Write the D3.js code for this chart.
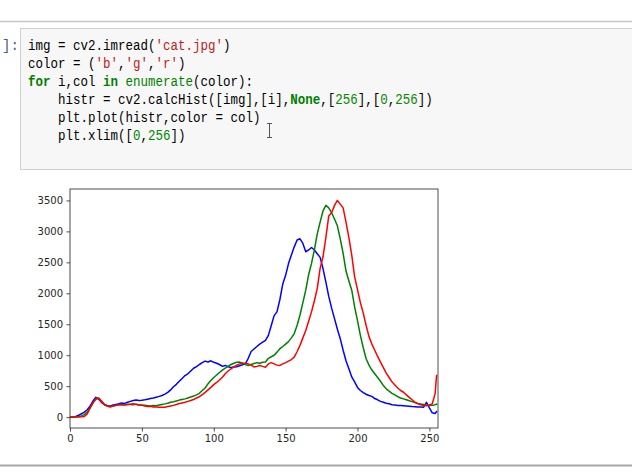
<!DOCTYPE html>
<html>
<head>
<meta charset="utf-8">
<script src="https://cdn.jsdelivr.net/npm/d3@7"></script>
<style>
html,body{margin:0;padding:0;background:#fff;overflow:hidden;}
svg{display:block;}
</style>
</head>
<body>
<svg id="c" width="632" height="476"></svg>
<script>
// ---------- data ----------
const bins = [0,2,4,6,8,10,12,14,16,18,20,22,24,26,28,30,32,34,36,38,40,42,44,46,48,50,52,54,56,58,60,62,64,66,68,70,72,74,76,78,80,82,84,86,88,90,92,94,96,98,100,102,104,106,108,110,112,114,116,118,120,122,124,126,128,130,132,134,136,138,140,142,144,146,148,150,152,154,156,158,160,162,164,166,168,170,172,174,176,178,180,182,184,186,188,190,192,194,196,198,200,202,204,206,208,210,212,214,216,218,220,222,224,226,228,230,232,234,236,238,240,242,244,246,248,250,252,254,255];
const blueHist = [0,3,10,30,55,80,120,180,260,321,290,235,200,185,180,195,205,215,228,222,240,255,270,278,268,272,280,290,300,310,322,335,350,372,400,440,490,530,580,625,672,700,745,790,815,850,880,905,890,910,885,870,850,820,835,815,800,810,815,830,845,862,950,1060,1100,1140,1180,1210,1240,1320,1480,1640,1700,1900,2150,2290,2480,2620,2750,2860,2880,2806,2671,2700,2740,2700,2640,2580,2400,2180,1950,1760,1591,1420,1267,1080,910,780,650,570,480,430,395,370,350,335,300,280,255,240,225,215,200,195,188,186,182,178,175,170,168,165,162,160,240,150,70,60,90];
const greenHist = [0,2,5,10,20,40,80,150,230,300,310,260,200,180,170,180,190,198,205,200,210,205,200,210,195,195,190,185,180,188,185,195,205,214,225,240,250,262,275,285,295,310,325,340,360,385,430,470,538,590,640,680,720,760,790,820,850,870,885,889,870,850,835,850,865,880,870,885,890,950,975,1000,1050,1105,1140,1180,1220,1280,1350,1483,1650,1850,2050,2300,2483,2700,2960,3150,3330,3420,3380,3300,3200,3090,2880,2645,2360,2200,2050,1780,1560,1321,1120,943,840,760,700,640,580,510,457,420,385,360,330,310,295,280,265,250,235,222,212,205,195,186,190,200,210];
const redHist = [0,2,3,4,5,12,50,150,230,290,305,250,205,180,165,180,190,200,205,195,200,210,215,205,195,190,180,172,175,165,165,160,158,160,170,180,190,205,220,230,241,255,270,285,310,330,365,400,440,480,525,560,600,645,700,745,781,810,840,860,870,872,860,840,810,820,835,820,807,860,880,860,840,835,860,880,905,930,970,1060,1159,1280,1400,1550,1700,1880,2080,2402,2590,2900,3250,3300,3420,3500,3440,3380,3150,2900,2617,2266,2060,1850,1680,1480,1300,1180,1080,980,889,800,710,640,570,520,470,430,402,360,320,280,240,214,200,186,185,195,215,380,672];
const seriesNames = ["b","g","r"];
const seriesColors = ["#0000ff","#008000","#ff0000"];
const xTicks = [0,50,100,150,200,250];
const yTicks = [0,500,1000,1500,2000,2500,3000,3500];
const xDomain = [0,256];
const yDomain = [-175.5,3684.5];

const codeLines = [
  [["img ","#000"],["= ","#000"],["cv2.imread(","#000"],["'cat.jpg'","#ba2121"],[")","#000"]],
  [["color ","#000"],["= ","#000"],["(","#000"],["'b'","#ba2121"],[",","#000"],["'g'","#ba2121"],[",","#000"],["'r'","#ba2121"],[")","#000"]],
  [["for","#008000",1],[" i,col ","#000"],["in","#008000",1],[" ","#000"],["enumerate","#008000"],["(color):","#000"]],
  [["    histr ","#000"],["= ","#000"],["cv2.calcHist([img],[i],","#000"],["None","#008000",1],[",[","#000"],["256","#008800"],["],[","#000"],["0","#008800"],[",","#000"],["256","#008800"],["])","#000"]],
  [["    plt.plot(histr,color ","#000"],["= ","#000"],["col)","#000"]],
  [["    plt.xlim([","#000"],["0","#008800"],[",","#000"],["256","#008800"],["])","#000"]]
];

// ---------- drawing ----------
const svg = d3.select("#c");

// notebook chrome
svg.append("line").attr("x1",0).attr("x2",632).attr("y1",21.5).attr("y2",21.5)
  .attr("stroke","#c6c6c6").attr("stroke-width",1.5);
svg.append("rect").attr("x",20.5).attr("y",28.5).attr("width",640).attr("height",141)
  .attr("fill","#f7f7f7").attr("stroke","#cfcfcf").attr("stroke-width",1);
svg.append("text").attr("x",2).attr("y",50).attr("text-anchor","start")
  .attr("font-family","Liberation Mono, monospace").attr("font-size",14)
  .attr("fill","#4a5a8c").text("]:");

const codeG = svg.append("g");
codeLines.forEach((segs,i)=>{
  const t = codeG.append("text")
    .attr("transform",`translate(28,${50+i*18}) scale(0.8333,1)`)
    .attr("font-family","Liberation Mono, monospace").attr("font-size",15)
    .attr("xml:space","preserve").style("white-space","pre");
  segs.forEach(s=>{
    t.append("tspan").attr("fill",s[1]).attr("font-weight",s[2]?"bold":"normal").text(s[0]);
  });
});
// mouse I-beam cursor
const cur = svg.append("g").attr("stroke","#555").attr("stroke-width",1).attr("fill","none");
cur.append("line").attr("x1",269.5).attr("x2",269.5).attr("y1",124).attr("y2",137);
cur.append("line").attr("x1",267).attr("x2",272).attr("y1",123.5).attr("y2",123.5);
cur.append("line").attr("x1",267).attr("x2",272).attr("y1",137.5).attr("y2",137.5);

svg.append("line").attr("x1",0).attr("x2",632).attr("y1",465.5).attr("y2",465.5)
  .attr("stroke","#a8a8a8").attr("stroke-width",2);

// plot
const L=70, R=438, T=189, B=428;
const x = d3.scaleLinear().domain(xDomain).range([L,R]);
const y = d3.scaleLinear().domain(yDomain).range([B,T]);

const clip = svg.append("clipPath").attr("id","pc");
clip.append("rect").attr("x",L).attr("y",T).attr("width",R-L).attr("height",B-T);

const line = d3.line().x(d=>x(d[0])).y(d=>y(d[1]));
const all = [blueHist,greenHist,redHist];
const plotG = svg.append("g").attr("clip-path","url(#pc)");
all.forEach((vals,k)=>{
  plotG.append("path").datum(bins.map((b,j)=>[b,vals[j]]))
    .attr("d",line).attr("fill","none").attr("stroke",seriesColors[k])
    .attr("stroke-width",1.5).attr("stroke-linejoin","round").attr("stroke-linecap","square")
    .attr("class","series-"+seriesNames[k]);
});

// axes
const xa = svg.append("g").attr("transform",`translate(0,${B})`)
  .call(d3.axisBottom(x).tickValues(xTicks).tickSize(3.5).tickPadding(3.5).tickFormat(d3.format("d")));
const ya = svg.append("g").attr("transform",`translate(${L},0)`)
  .call(d3.axisLeft(y).tickValues(yTicks).tickSize(3.5).tickPadding(3.5).tickFormat(d3.format("d")));
[xa,ya].forEach(a=>{
  a.select(".domain").remove();
  a.selectAll(".tick line").attr("stroke","#222").attr("stroke-width",0.8);
  a.selectAll(".tick text").attr("fill","#262626")
    .attr("font-family","DejaVu Sans, sans-serif").attr("font-size",10);
});
svg.append("rect").attr("x",L).attr("y",T).attr("width",R-L).attr("height",B-T)
  .attr("fill","none").attr("stroke","#222").attr("stroke-width",0.8);
</script>
</body>
</html>
